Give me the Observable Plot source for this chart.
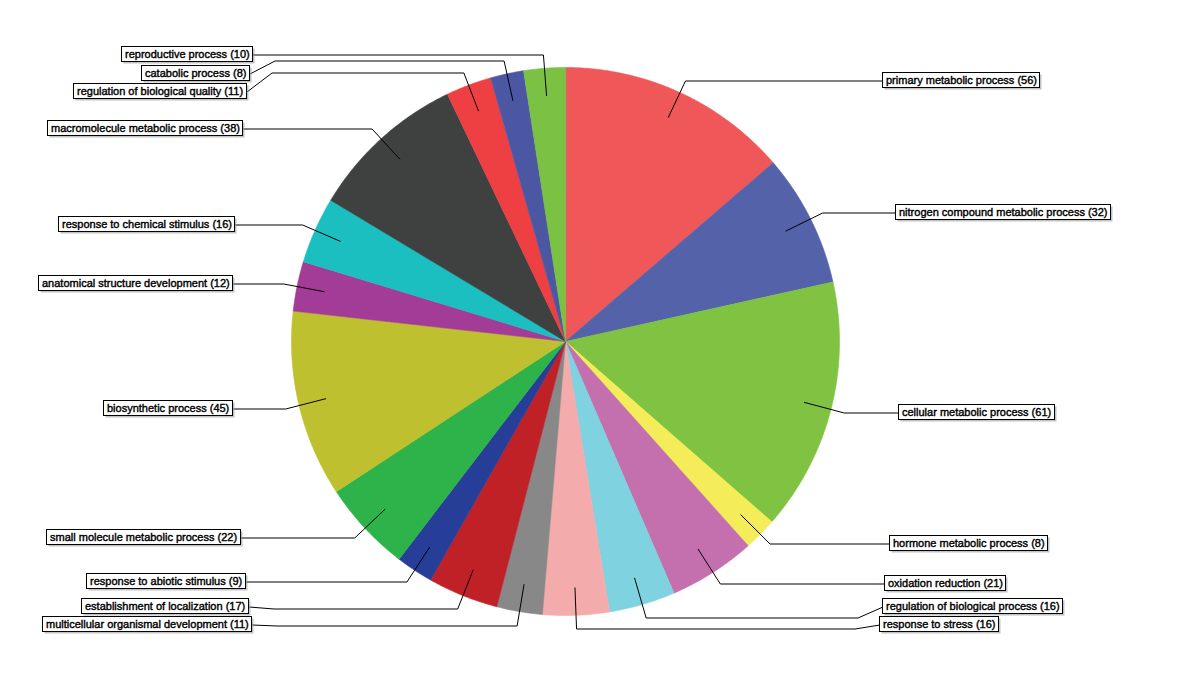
<!DOCTYPE html>
<html><head><meta charset="utf-8">
<script src="https://cdn.jsdelivr.net/npm/d3@7"></script>
<script src="https://cdn.jsdelivr.net/npm/@observablehq/plot@0.6"></script>
<style>body{margin:0;background:#fff;} #chart svg{display:block;}</style>
</head><body><div id="chart"></div>
<script>
// ---- data (clockwise from 12 o'clock) ----
const categories = [
  "primary metabolic process",
  "nitrogen compound metabolic process",
  "cellular metabolic process",
  "hormone metabolic process",
  "oxidation reduction",
  "regulation of biological process",
  "response to stress",
  "multicellular organismal development",
  "establishment of localization",
  "response to abiotic stimulus",
  "small molecule metabolic process",
  "biosynthetic process",
  "anatomical structure development",
  "response to chemical stimulus",
  "macromolecule metabolic process",
  "regulation of biological quality",
  "catabolic process",
  "reproductive process"
];
const counts = [56, 32, 61, 8, 21, 16, 16, 11, 17, 9, 22, 45, 12, 16, 38, 11, 8, 10];
const colors = [
  "#EF5759", "#5462AA", "#80C241", "#F4EC58", "#C46FAE", "#7FD2DF",
  "#F4ABAB", "#888888", "#BF2127", "#263E97", "#2EB34A", "#BFC02F",
  "#A23C96", "#1BBFBF", "#3F4040", "#EE4043", "#4C57A4", "#7BC143"
];

// ---- layout ----
const W = 1200, H = 680;
const CX = 565, CY = 341, R = 274;
const FONT = "11px 'Liberation Sans', Arial, sans-serif";
const GAP = 18.5, PAD = 3, BOXH = 15;

const total = d3.sum(counts);
let acc = 0;
const slices = categories.map((name, i) => {
  const a0 = acc / total * 2 * Math.PI;
  acc += counts[i];
  const a1 = acc / total * 2 * Math.PI;
  return {name, value: counts[i], a0, a1, mid: (a0 + a1) / 2};
});
const px = (a, r) => CX + r * Math.sin(a);
const py = (a, r) => CY - r * Math.cos(a);

// slice polygons
const slicePts = [];
for (const s of slices) {
  slicePts.push({name: s.name, x: CX, y: CY});
  const n = Math.max(2, Math.ceil((s.a1 - s.a0) / (Math.PI / 360)));
  for (let k = 0; k <= n; k++) {
    const a = s.a0 + (s.a1 - s.a0) * k / n;
    slicePts.push({name: s.name, x: px(a, R), y: py(a, R)});
  }
}

// label measurement
const ctx = document.createElement("canvas").getContext("2d");
ctx.font = FONT;

const labels = slices.map(s => ({
  name: s.name,
  text: `${s.name} (${s.value})`,
  side: Math.sin(s.mid) >= 0 ? 1 : -1,
  ix: px(s.mid, R * 0.9), iy: py(s.mid, R * 0.9),
  ex: px(s.mid, R * 1.05), ey: py(s.mid, R * 1.05)
}));
const maxY = CY + 283;
for (const side of [1, -1]) {
  const grp = labels.filter(d => d.side === side).sort((a, b) => a.ey - b.ey);
  grp.forEach(d => d.ly = d.ey);
  for (let i = 1; i < grp.length; i++)
    if (grp[i].ly < grp[i - 1].ly + GAP) grp[i].ly = grp[i - 1].ly + GAP;
  if (grp.length && grp[grp.length - 1].ly > maxY) grp[grp.length - 1].ly = maxY;
  for (let i = grp.length - 2; i >= 0; i--)
    if (grp[i].ly > grp[i + 1].ly - GAP) grp[i].ly = grp[i + 1].ly - GAP;
}
const conn = [];
for (const d of labels) {
  const dy = d.ly - CY;
  const dx = 334 * Math.sqrt(Math.max(0, 1 - (dy / 830) ** 2));
  d.edge = Math.round(CX + d.side * dx) + 0.5;
  const w = Math.ceil(ctx.measureText(d.text).width) + 2 * PAD;
  d.yc = Math.round(d.ly);
  d.x1 = d.side > 0 ? d.edge : d.edge - w;
  d.x2 = d.x1 + w;
  d.y1 = d.yc - BOXH / 2;
  d.y2 = d.yc + BOXH / 2;
  d.tx = d.x1 + PAD;
  conn.push({name: d.name, x: d.ix, y: d.iy});
  conn.push({name: d.name, x: d.ex, y: Math.round(d.ey) + 0.5});
  if (Math.abs(d.ly - d.ey) > 0.5) {
    conn.push({name: d.name, x: d.edge - d.side * 25, y: Math.round(d.ey) + 0.5});
  }
  conn.push({name: d.name, x: d.edge, y: d.yc + 0.5});
}

const chart = Plot.plot({
  width: W, height: H,
  margin: 0,
  style: {background: "#fff"},
  x: {domain: [0, W], range: [0, W], axis: null},
  y: {domain: [0, H], range: [0, H], axis: null},
  color: {domain: categories, range: colors},
  marks: [
    Plot.line(slicePts, {x: "x", y: "y", z: "name", fill: "name", stroke: "name", strokeWidth: 0.6, curve: "linear-closed"}),
    Plot.line(conn, {x: "x", y: "y", z: "name", stroke: "#000", strokeWidth: 1}),
    Plot.rect(labels, {x1: "x1", x2: "x2", y1: "y1", y2: "y2", dx: 2, dy: 2, fill: "#9a9a9a", fillOpacity: 0.6}),
    Plot.rect(labels, {x1: "x1", x2: "x2", y1: "y1", y2: "y2", fill: "#fff", stroke: "#000", strokeWidth: 1}),
    Plot.text(labels, {x: "tx", y: "yc", text: "text", textAnchor: "start", fill: "#000", stroke: "#000", strokeWidth: 0.4,
      fontFamily: "'Liberation Sans', Arial, sans-serif", fontSize: 11})
  ]
});
document.getElementById("chart").appendChild(chart);
</script>
</body></html>
